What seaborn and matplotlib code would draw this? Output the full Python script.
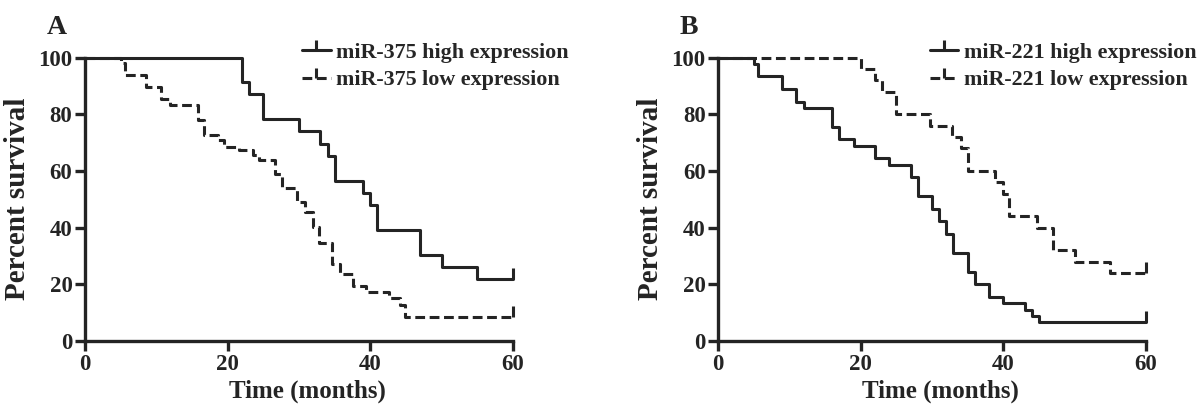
import numpy as np
import pandas as pd
import seaborn as sns
import matplotlib.pyplot as plt
from matplotlib.lines import Line2D

# survival curves (months, percent surviving)
a_high_t = [0, 22, 23, 25, 30, 33, 34, 35, 39, 40, 41, 47, 50, 55, 60]
a_high_s = [100, 91.3, 87.0, 78.3, 73.9, 69.6, 65.2, 56.5, 52.2, 47.8, 39.1, 30.4, 26.1, 21.7, 21.7]
a_low_t = [0, 5, 5.6, 8.6, 10.7, 11.9, 15.8, 16.7, 18.6, 19.5, 21.6, 23.5, 24.4, 26.7, 27.6,
           29.7, 30.9, 31.9, 32.8, 34.6, 35.7, 37.5, 39.4, 42.6, 44.2, 44.8, 60]
a_low_s = [100, 97.9, 93.8, 89.6, 85.4, 83.3, 77.9, 72.6, 70.8, 68.5, 67.3, 65.5, 63.8, 59.0, 53.8,
           49.0, 45.5, 40.2, 34.4, 27.3, 23.8, 19.4, 17.3, 15.0, 12.6, 8.5, 8.5]

b_high_t = [0, 5, 5.6, 9, 11, 12, 16, 17, 19, 22, 24, 27, 28, 30, 31, 32, 33, 35, 36, 38, 40,
            43, 44, 45, 60]
b_high_s = [100, 97.8, 93.3, 88.9, 84.4, 82.2, 75.6, 71.1, 68.9, 64.4, 62.2, 57.8, 51.1, 46.7,
            42.2, 37.8, 31.1, 24.4, 20.0, 15.6, 13.3, 11.1, 8.9, 6.7, 6.7]
b_low_t = [0, 20, 22, 23, 25, 29.7, 32.8, 34, 35, 38.8, 40, 40.8, 44.7, 47, 50, 55, 60]
b_low_s = [100, 96, 92, 88, 80, 76, 72, 68, 60, 56, 52, 44, 40, 32, 28, 24, 24]

panels = [
    ("A", "miR-375", (a_high_t, a_high_s), (a_low_t, a_low_s)),
    ("B", "miR-221", (b_high_t, b_high_s), (b_low_t, b_low_s)),
]

sns.set_style("ticks")
plt.rcParams["font.family"] = ["Liberation Serif", "DejaVu Serif"]
plt.rcParams["font.weight"] = "bold"

col = "#242424"
lw = 2.2
dash = (0, (3.2, 1.5))

fig = plt.figure(figsize=(11.98, 4.07), dpi=100)
lefts = [85 / 1198, 718 / 1198]
leg_x = [0.487, 0.474]

for (letter, name, high, low), left, lx in zip(panels, lefts, leg_x):
    ax = fig.add_axes([left, 66 / 407, 428 / 1198, 283.5 / 407])
    df_h = pd.DataFrame({"t": high[0], "s": high[1]})
    df_l = pd.DataFrame({"t": low[0], "s": low[1]})
    sns.lineplot(data=df_h, x="t", y="s", ax=ax, color=col, lw=lw,
                 drawstyle="steps-post", estimator=None, clip_on=False)
    sns.lineplot(data=df_l, x="t", y="s", ax=ax, color=col, lw=lw, ls=dash,
                 drawstyle="steps-post", estimator=None, clip_on=False)
    # censor ticks at end of follow-up
    ax.plot([high[0][-1]], [high[1][-1]], marker=2, ms=8, mew=lw, color=col, clip_on=False)
    ax.plot([low[0][-1]], [low[1][-1]], marker=2, ms=8, mew=lw, color=col, clip_on=False)

    ax.set_xlim(0, 60)
    ax.set_ylim(0, 100)
    ax.set_xticks([0, 20, 40, 60])
    ax.set_yticks([0, 20, 40, 60, 80, 100])
    sns.despine(ax=ax)
    for sp in ["left", "bottom"]:
        ax.spines[sp].set_linewidth(2.4)
        ax.spines[sp].set_color(col)
    ax.tick_params(width=2.4, length=7, color=col, labelsize=16.5, labelcolor=col, pad=2)
    ax.set_xlabel("Time (months)", fontsize=18, fontweight="bold", color=col, labelpad=1)
    ax.xaxis.set_label_coords(0.52, -0.135)
    ax.set_ylabel("Percent survival", fontsize=21, fontweight="bold", color=col, labelpad=5)
    ax.text(-0.089, 1.06, letter, transform=ax.transAxes, fontsize=20,
            fontweight="bold", color=col, va="bottom")

    handles = [
        Line2D([0], [0], color=col, lw=lw, marker=2, ms=7, mew=lw),
        Line2D([0], [0], color=col, lw=lw, ls=dash, marker=2, ms=7, mew=lw),
    ]
    ax.legend(handles, [f"{name} high expression", f"{name} low expression"],
              loc="upper left", bbox_to_anchor=(lx, 1.084), frameon=False,
              fontsize=15.8, handlelength=1.3, handletextpad=0.25,
              labelspacing=0.33, numpoints=1, borderaxespad=0)

fig.savefig("out.png", dpi=100)
